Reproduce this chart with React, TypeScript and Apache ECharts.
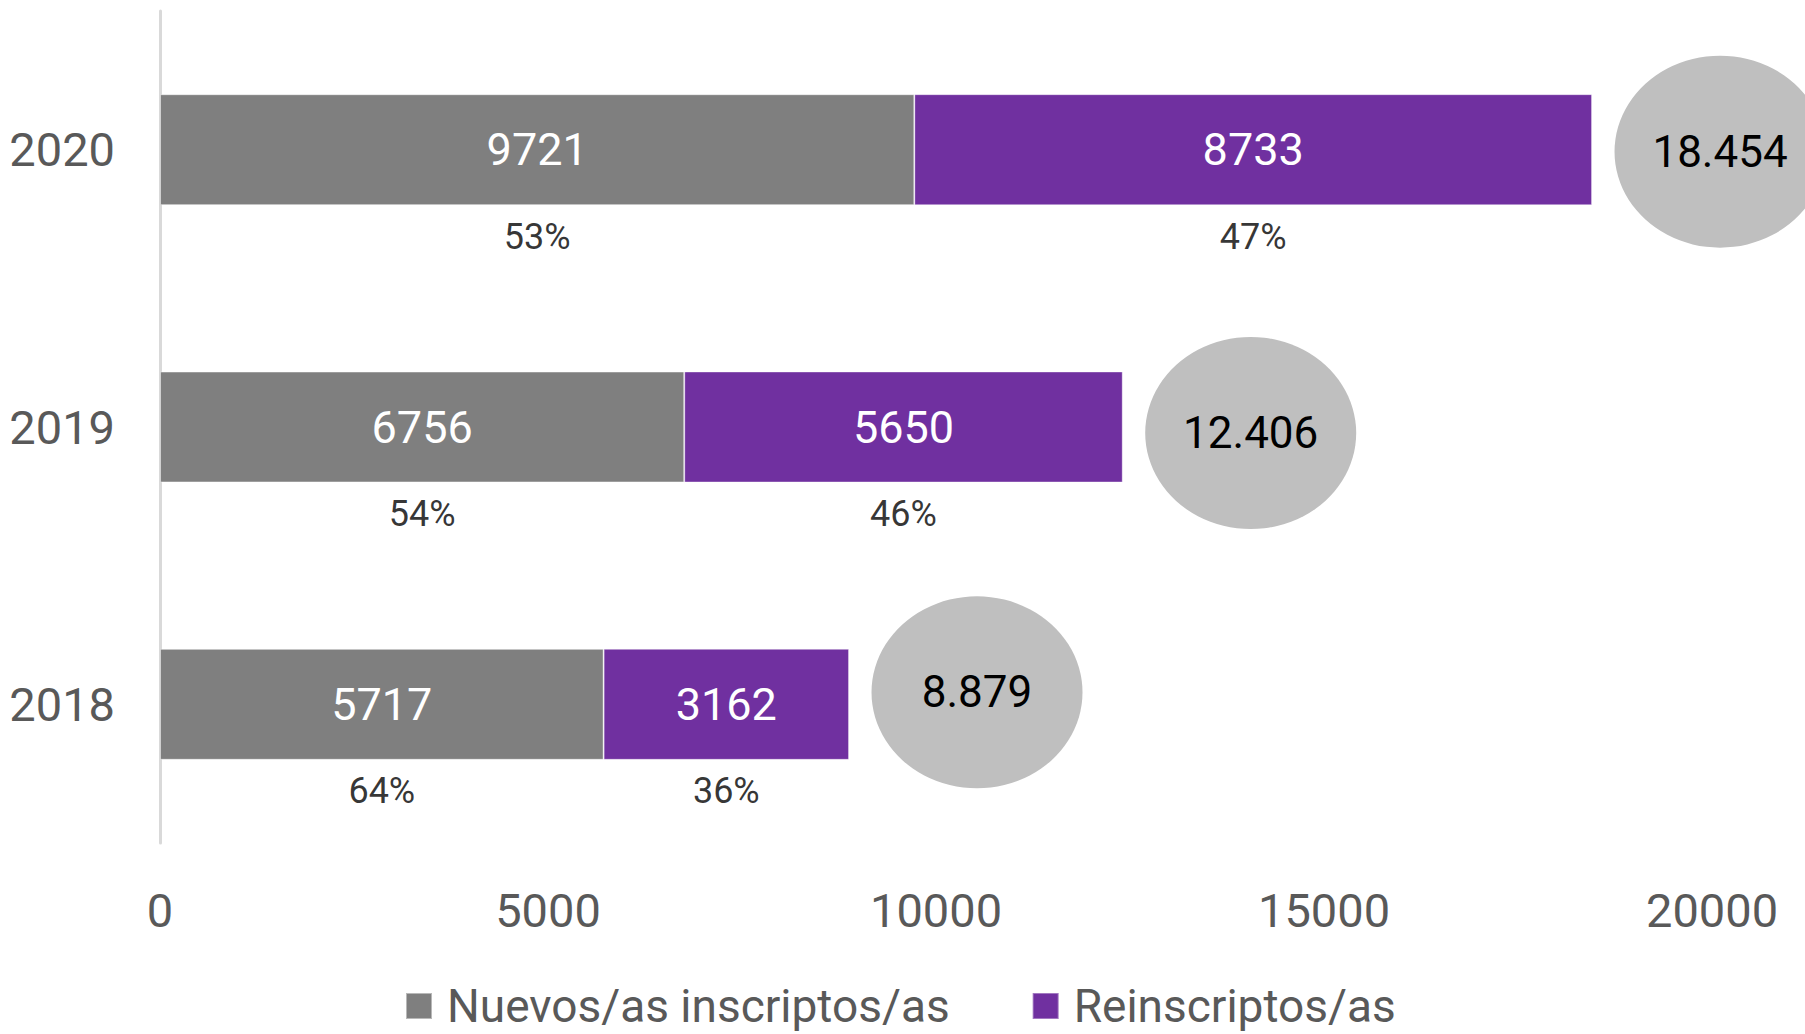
import React, { useEffect, useRef } from "react";
import * as echarts from "echarts";

const years = ["2018", "2019", "2020"];
const nuevos = [5717, 6756, 9721];
const reinscriptos = [3162, 5650, 8733];
const totales = [8879, 12406, 18454];
const pctNuevos = ["64%", "54%", "53%"];
const pctReins = ["36%", "46%", "47%"];
const seriesNames = ["Nuevos/as inscriptos/as", "Reinscriptos/as"];
const xMin = 0;
const xMax = 20000;
const xStep = 5000;

const FONT = "Roboto, 'Noto Sans', sans-serif";
const GRAY = "#7f7f7f";
const PURPLE = "#7030a0";
const BUBBLE = "#bfbfbf";
const TEXT_GRAY = "#595959";

const bubbleOffsetsY = [-12, 6, 2];

function fmtThousands(v: number): string {
  return String(v).replace(/\B(?=(\d{3})+(?!\d))/g, ".");
}

export default function App() {
  const ref = useRef<HTMLDivElement>(null);

  useEffect(() => {
    if (!ref.current) return;
    const chart = echarts.init(ref.current, undefined, { renderer: "svg" });

    const option: any = {
      animation: false,
      backgroundColor: "#ffffff",
      grid: { left: 160, right: 93, top: 11, bottom: 191, containLabel: false },
      legend: {
        data: seriesNames,
        left: 405,
        top: 983,
        icon: "rect",
        itemWidth: 26,
        itemHeight: 26,
        itemGap: 82,
        padding: 0,
        selectedMode: false,
        textStyle: {
          fontFamily: FONT,
          fontSize: 46,
          lineHeight: 46,
          color: TEXT_GRAY,
          padding: [0, 0, 0, 10],
        },
      },
      xAxis: {
        type: "value",
        min: xMin,
        max: xMax,
        interval: xStep,
        axisLine: { show: false },
        axisTick: { show: false },
        splitLine: { show: false },
        axisLabel: {
          color: TEXT_GRAY,
          fontSize: 47,
          fontFamily: FONT,
          margin: 44,
          formatter: (v: number) => String(v),
        },
      },
      yAxis: {
        type: "category",
        data: years,
        axisLine: { show: true, lineStyle: { color: "#d9d9d9", width: 3 } },
        axisTick: { show: false },
        splitLine: { show: false },
        axisLabel: {
          color: TEXT_GRAY,
          fontSize: 47,
          fontFamily: FONT,
          margin: 45,
        },
      },
      series: [
        {
          name: seriesNames[0],
          type: "bar",
          stack: "total",
          barWidth: "40%",
          data: nuevos,
          itemStyle: { color: GRAY, borderColor: "rgba(255,255,255,0.45)", borderWidth: 1 },
          label: {
            show: true,
            position: "inside",
            color: "#ffffff",
            fontSize: 45,
            fontFamily: FONT,
          },
          emphasis: { disabled: true },
        },
        {
          name: seriesNames[1],
          type: "bar",
          stack: "total",
          barWidth: "40%",
          data: reinscriptos,
          itemStyle: { color: PURPLE, borderColor: "rgba(255,255,255,0.35)", borderWidth: 1 },
          label: {
            show: true,
            position: "inside",
            color: "#ffffff",
            fontSize: 45,
            fontFamily: FONT,
          },
          emphasis: { disabled: true },
        },
        {
          name: "Total",
          type: "scatter",
          clip: false,
          z: 5,
          data: totales.map((v, i) => ({
            value: [v, years[i]],
            symbolOffset: [128, bubbleOffsetsY[i]],
          })),
          symbol: "circle",
          symbolSize: [211, 192],
          itemStyle: { color: BUBBLE, opacity: 1 },
          label: {
            show: true,
            position: "inside",
            color: "#000000",
            fontSize: 44,
            fontFamily: FONT,
            formatter: (p: any) => fmtThousands(p.value[0]),
          },
          emphasis: { disabled: true },
        },
        {
          name: "PctNuevos",
          type: "scatter",
          clip: false,
          z: 6,
          data: nuevos.map((v, i) => ({
            value: [v / 2, years[i]],
            label: { formatter: pctNuevos[i] },
          })),
          symbolSize: 1,
          itemStyle: { color: "rgba(0,0,0,0)" },
          label: {
            show: true,
            position: "inside",
            offset: [0, 87],
            color: "#000000",
            fontSize: 36,
            fontFamily: FONT,
          },
          emphasis: { disabled: true },
        },
        {
          name: "PctReins",
          type: "scatter",
          clip: false,
          z: 6,
          data: reinscriptos.map((v, i) => ({
            value: [nuevos[i] + v / 2, years[i]],
            label: { formatter: pctReins[i] },
          })),
          symbolSize: 1,
          itemStyle: { color: "rgba(0,0,0,0)" },
          label: {
            show: true,
            position: "inside",
            offset: [0, 87],
            color: "#000000",
            fontSize: 36,
            fontFamily: FONT,
          },
          emphasis: { disabled: true },
        },
      ],
    };

    chart.setOption(option);
    return () => {
      chart.dispose();
    };
  }, []);

  return (
    <div
      ref={ref}
      style={{ position: "fixed", left: 0, top: 0, width: 1805, height: 1034, background: "#fff" }}
    />
  );
}
